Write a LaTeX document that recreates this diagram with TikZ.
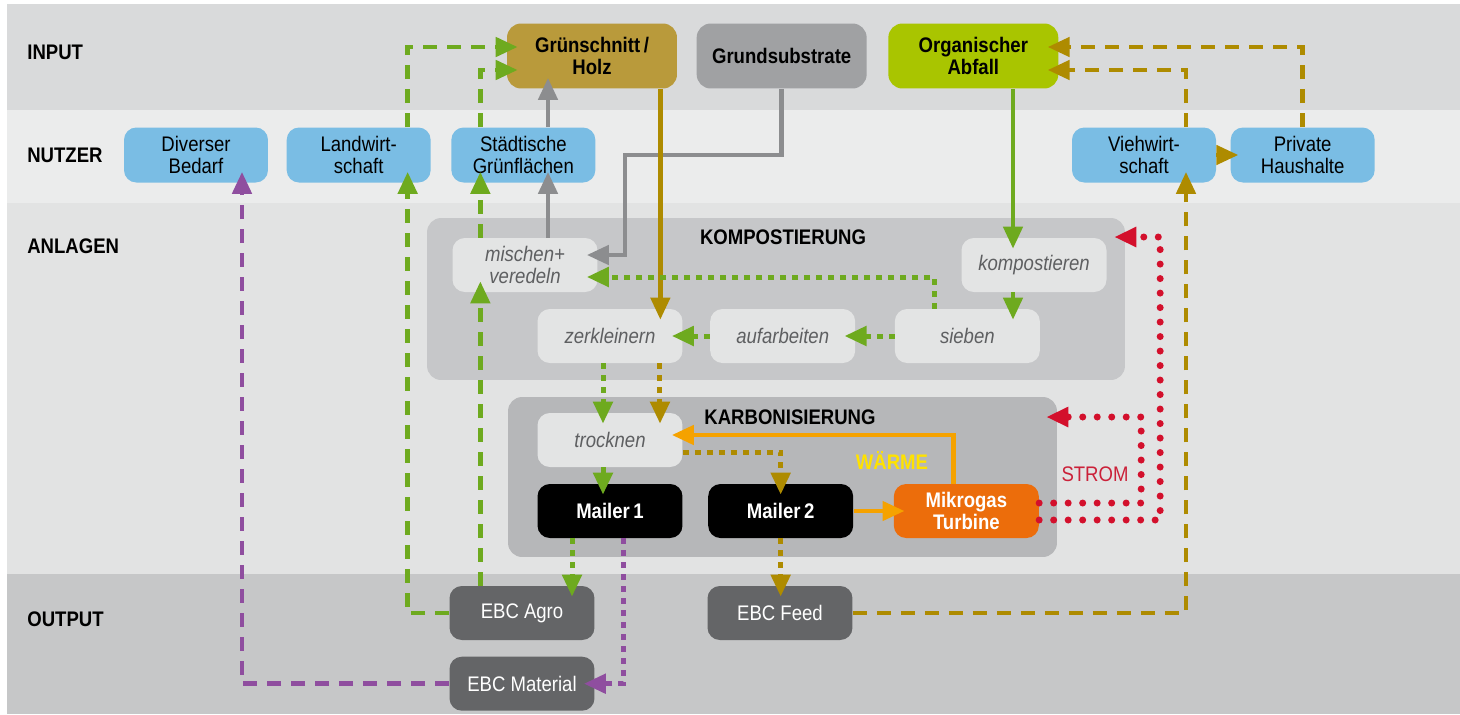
\documentclass[tikz,border=0pt]{standalone}
\usepackage{fontspec}
\setmainfont{Liberation Sans}[FakeStretch=0.88]
\usepackage{tikz}
\usetikzlibrary{arrows.meta, positioning, calc}
\definecolor{bandinput}{HTML}{D9DADB}
\definecolor{bandnutzer}{HTML}{EBECEC}
\definecolor{bandanlagen}{HTML}{E2E3E3}
\definecolor{bandoutput}{HTML}{C6C7C8}
\definecolor{groupkomp}{HTML}{C6C7C9}
\definecolor{groupkarb}{HTML}{B6B7B9}
\definecolor{taskfill}{HTML}{E3E4E4}
\definecolor{tasktext}{HTML}{5E5F61}
\definecolor{golden}{HTML}{B99A3B}
\definecolor{substrat}{HTML}{A0A1A3}
\definecolor{abfallgreen}{HTML}{A9C500}
\definecolor{userblue}{HTML}{7ABDE4}
\definecolor{outputgray}{HTML}{646567}
\definecolor{turbineorange}{HTML}{EC6D0B}
\definecolor{flowgold}{HTML}{AE8B00}
\definecolor{flowgray}{HTML}{8C8D8F}
\definecolor{flowgreen}{HTML}{6EAA1F}
\definecolor{flowred}{HTML}{D3102C}
\definecolor{flowpurple}{HTML}{8F4E9F}
\definecolor{flowheat}{HTML}{F5A200}
\definecolor{heatyellow}{HTML}{FFE200}
\definecolor{stromred}{HTML}{CB2139}
\newcommand{\diagfont}{\fontsize{12}{12.5}\selectfont}
\tikzset{
  inputbox/.style={
    rectangle, rounded corners=8pt,
    minimum width=3.4cm, minimum height=1.3cm, inner sep=0pt,
    align=center, font=\diagfont\bfseries, text=black,
  },
  userbox/.style={
    rectangle, rounded corners=7pt, fill=userblue,
    minimum width=2.88cm, minimum height=1.1cm, inner sep=0pt,
    align=center, text=black,
  },
  taskbox/.style={
    rectangle, rounded corners=7pt, fill=taskfill,
    minimum width=2.9cm, minimum height=1.08cm, inner sep=0pt,
    align=center, font=\diagfont\itshape, text=tasktext,
  },
  mailerbox/.style={
    rectangle, rounded corners=7pt, fill=black,
    minimum width=2.9cm, minimum height=1.08cm, inner sep=0pt,
    align=center, font=\diagfont\bfseries, text=white,
  },
  outputbox/.style={
    rectangle, rounded corners=7pt, fill=outputgray,
    minimum width=2.9cm, minimum height=1.08cm, inner sep=0pt,
    align=center, text=white,
  },
  groupbox/.style={rectangle, rounded corners=8pt, inner sep=0pt},
  grouptitle/.style={font=\diagfont\bfseries, inner sep=0pt},
  rowlabel/.style={anchor=west, font=\diagfont\bfseries, inner sep=0pt},
  flow/.style={line width=0.09cm, -{Triangle[length=0.44cm,width=0.38cm]}, shorten >=-0.22cm},
  dashflow/.style={flow, line width=0.095cm, dash pattern=on 0.28cm off 0.2cm},
  dotflow/.style={flow, line width=0.1cm, dash pattern=on 0.12cm off 0.12cm},
  stromflow/.style={flow, line width=0.14cm, line cap=round, dash pattern=on 0pt off 0.29cm},
}

\begin{document}
\begin{tikzpicture}[x=0.02cm, y=-0.02cm, every node/.style={font=\diagfont}]

  \useasboundingbox (0,0) rectangle (1460,714);

  % bands
  \fill[bandinput] (7,4) rectangle (1460,110);
  \fill[bandnutzer] (7,110) rectangle (1460,203);
  \fill[bandanlagen] (7,203) rectangle (1460,574);
  \fill[bandoutput] (7,574) rectangle (1460,714);

  \node[rowlabel] (rowinput) at (27,52) {INPUT};
  \node[rowlabel] (rownutzer) at (27,155) {NUTZER};
  \node[rowlabel] (rowanlagen) at (27,246) {ANLAGEN};
  \node[rowlabel] (rowoutput) at (27,619) {OUTPUT};

  % plants
  \node[groupbox, fill=groupkomp, minimum width=13.96cm, minimum height=3.24cm] (komp) at (776,299) {};
  \node[grouptitle] (komptitle) at (783,237) {KOMPOSTIERUNG};
  \node[groupbox, fill=groupkarb, minimum width=10.98cm, minimum height=3.2cm] (karb) at (782.5,477) {};
  \node[grouptitle] (karbtitle) at (790,417) {KARBONISIERUNG};

  % input
  \node[inputbox, fill=golden] (gruen) at (592,56) {Grünschnitt\,/\\Holz};
  \node[inputbox, fill=substrat, right=0.38cm of gruen] (substr) {Grundsubstrate};
  \node[inputbox, fill=abfallgreen, right=0.42cm of substr] (abfall) {Organischer\\Abfall};

  % users
  \node[userbox] (divers) at (196,155) {Diverser\\Bedarf};
  \node[userbox, right=0.36cm of divers] (landw) {Landwirt-\\schaft};
  \node[userbox, right=0.4cm of landw] (staedt) {Städtische\\Grünflächen};
  \node[userbox] (vieh) at (1144,155) {Viehwirt-\\schaft};
  \node[userbox, right=0.28cm of vieh] (privat) {Private\\Haushalte};

  % tasks
  \node[taskbox] (mischen) at (525,265) {mischen+\\veredeln};
  \node[taskbox] (zerkl) at (610,336) {zerkleinern};
  \node[taskbox, right=0.54cm of zerkl] (aufarb) {aufarbeiten};
  \node[taskbox, right=0.78cm of aufarb] (sieben) {sieben};
  \node[taskbox] (kompost) at (1034,265) {kompostieren};
  \node[taskbox] (trock) at (610,440) {trocknen};

  \node[mailerbox] (mailer1) at (610,511) {Mailer\,1};
  \node[mailerbox, right=0.5cm of mailer1] (mailer2) {Mailer\,2};
  \node[mailerbox, fill=turbineorange, right=0.8cm of mailer2] (turbine) {Mikrogas\\Turbine};
  \node[text=heatyellow, font=\diagfont\bfseries] (waerme) at (892,460) {WÄRME};
  \node[text=stromred] (strom) at (1095,474) {STROM};

  % output
  \node[outputbox] (agro) at (522,613) {EBC Agro};
  \node[outputbox, below=0.32cm of agro] (material) {EBC Material};
  \node[outputbox] (feed) at (780,613) {EBC Feed};

  % solid flows
  \draw[flow, flowgray] (substr.south) -- (substr.south |- staedt) -| ($(mischen.east)+(27,-10)$) -- ($(mischen.east)+(0,-10)$);
  \draw[flow, flowgold] ([xshift=-0.34cm]gruen.south east) -- ([xshift=-0.34cm]gruen.south east |- zerkl.north);
  \draw[flow, flowgray] ([xshift=0.46cm]mischen.north) -- ([xshift=0.46cm]mischen.north |- staedt.south);
  \draw[flow, flowgray] ([xshift=0.46cm]mischen.north |- staedt.north) -- ([xshift=0.46cm]mischen.north |- gruen.south);
  \draw[flow, flowgreen] ([xshift=-0.42cm]kompost.north |- abfall.south) -- ([xshift=-0.42cm]kompost.north);
  \draw[flow, flowgreen] ([xshift=-0.42cm]kompost.south) -- ([xshift=-0.42cm]kompost.south |- sieben.north);

  % compost
  \draw[dotflow, flowgreen] ([xshift=-0.66cm]sieben.north) |- ([yshift=-0.24cm]mischen.east);
  \draw[dotflow, flowgreen] (sieben) -- (aufarb);
  \draw[dotflow, flowgreen] (aufarb) -- (zerkl);
  \draw[dotflow, flowgreen] ([xshift=-0.14cm]zerkl.south) -- ([xshift=-0.14cm]zerkl.south |- trock.north);
  \draw[dotflow, flowgold] ([xshift=1cm]zerkl.south) -- ([xshift=1cm]zerkl.south |- trock.north);

  % carbon
  \draw[dotflow, flowgreen] ([xshift=-0.14cm]trock.south) -- ([xshift=-0.14cm]trock.south |- mailer1.north);
  \draw[dotflow, flowgold] ([yshift=-0.24cm]trock.east) -| (mailer2.north);
  \draw[flow, flowheat] (mailer2) -- (turbine);
  \draw[flow, flowheat] ([xshift=-0.26cm]turbine.north) |- ([yshift=0.1cm]trock.east);
  \draw[stromflow, flowred] ([yshift=-0.18cm]turbine.east) -- ++(121,0) |- (komp.east |- komptitle);
  \draw[stromflow, flowred] ([yshift=0.16cm]turbine.east) -- ++(102,0) |- (karb.east |- karbtitle);

  % products
  \draw[dotflow, flowgreen] ([xshift=-0.76cm]mailer1.south) -- ([xshift=-0.76cm]mailer1.south |- agro.north);
  \draw[dotflow, flowpurple] ([xshift=0.26cm]mailer1.south) |- (material.east);
  \draw[dotflow, flowgold] (mailer2.south) -- (mailer2.south |- feed.north);
  \draw[dashflow, flowgreen] (agro.west) -| ([xshift=0.98cm]landw.south);
  \draw[dashflow, flowgreen] ([xshift=0.98cm]landw.north) |- ([yshift=0.18cm]gruen.west);
  \draw[dashflow, flowgreen] ([xshift=-0.86cm]staedt.south |- agro.north) -- ([xshift=-0.86cm]staedt.south |- mischen.south);
  \draw[dashflow, flowgreen] ([xshift=-0.86cm]staedt.south |- mischen.north) -- ([xshift=-0.86cm]staedt.south);
  \draw[dashflow, flowgreen] ([xshift=-0.86cm]staedt.north) |- ([yshift=-0.28cm]gruen.west);
  \draw[dashflow, flowpurple] (material.west) -| ([xshift=0.92cm]divers.south);
  \draw[dashflow, flowgold] (feed.east) -| ([xshift=0.84cm]vieh.south);
  \draw[flow, flowgold, shorten >=-0.16cm] (vieh) -- (privat);
  \draw[dashflow, flowgold] ([xshift=0.84cm]vieh.north) |- ([yshift=-0.28cm]abfall.east);
  \draw[dashflow, flowgold] (privat.north) |- ([yshift=0.18cm]abfall.east);

\end{tikzpicture}
\end{document}
